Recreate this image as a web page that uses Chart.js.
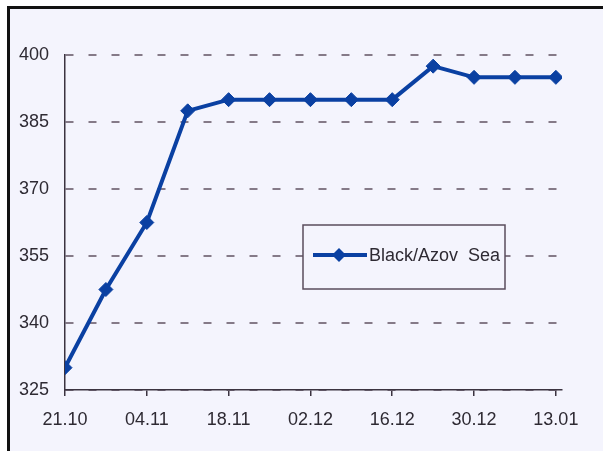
<!DOCTYPE html>
<html>
<head>
<meta charset="utf-8">
<script src="https://cdn.jsdelivr.net/npm/chart.js@4"></script>
<style>
  html, body { margin: 0; padding: 0; background: #fff; }
  #wrap { width: 603px; height: 451px; }
</style>
</head>
<body>
<div id="wrap"><canvas id="prices" width="603" height="451"></canvas></div>
<script>
var ctx = document.getElementById('prices')

// weekly points, labels every second week
const weeks = ['21.10', '28.10', '04.11', '11.11', '18.11', '25.11', '02.12',
  '09.12', '16.12', '23.12', '30.12', '06.01', '13.01']
const blackAzov = [330, 347.5, 362.5, 387.5, 390, 390, 390, 390, 390, 397.5, 395, 395, 395]
const yTicks = [325, 340, 355, 370, 385, 400]

const lineColor = '#0a40a2'
const bg = '#f4f4fd'
const fontFamily = '"Liberation Sans", Arial, sans-serif'

const frame = {
  id: 'frame',
  beforeDraw(chart) {
    const c = chart.ctx
    c.save()
    c.fillStyle = '#ffffff'
    c.fillRect(0, 0, chart.width, chart.height)
    c.fillStyle = '#111111'
    c.fillRect(7, 6, chart.width, chart.height)
    c.fillStyle = bg
    c.fillRect(10, 9, chart.width, chart.height)
    c.restore()
  }
}

// legend box sitting inside the plot
const boxLegend = {
  id: 'boxLegend',
  afterDraw(chart) {
    const c = chart.ctx
    const ds = chart.data.datasets[0]
    c.save()
    c.fillStyle = bg
    c.fillRect(303, 225, 202, 64)
    c.strokeStyle = '#5a4c5c'
    c.lineWidth = 1.5
    c.strokeRect(303, 225, 202, 64)
    c.strokeStyle = lineColor
    c.lineWidth = 4
    c.beginPath()
    c.moveTo(313, 255)
    c.lineTo(367, 255)
    c.stroke()
    c.fillStyle = lineColor
    c.beginPath()
    c.moveTo(339, 248)
    c.lineTo(346, 255)
    c.lineTo(339, 262)
    c.lineTo(332, 255)
    c.closePath()
    c.fill()
    c.fillStyle = '#2e2a33'
    c.font = '18px ' + fontFamily
    c.textBaseline = 'middle'
    c.fillText(ds.label, 369, 256)
    c.restore()
  }
}

new Chart(ctx, {
  type: 'line',
  data: {
    datasets: [{
      label: 'Black/Azov  Sea',
      data: blackAzov.map((v, i) => ({ x: i, y: v })),
      borderColor: lineColor,
      backgroundColor: lineColor,
      borderWidth: 4,
      pointStyle: 'rectRot',
      pointRadius: 7,
      pointHoverRadius: 7,
      pointBorderWidth: 1,
      tension: 0
    }]
  },
  options: {
    responsive: false,
    animation: false,
    layout: { padding: { top: 55, right: 41, left: 0, bottom: 0 } },
    plugins: {
      legend: { display: false },
      tooltip: { enabled: false }
    },
    scales: {
      x: {
        type: 'linear',
        min: 0,
        max: 12.15,
        afterFit(scale) { scale.height = 61 },
        afterBuildTicks(scale) {
          scale.ticks = weeks.map((w, i) => ({ value: i })).filter(t => t.value % 2 === 0)
        },
        ticks: {
          autoSkip: false,
          maxRotation: 0,
          padding: 13,
          color: '#2e2a33',
          font: { family: fontFamily, size: 18 },
          callback: (v) => weeks[v]
        },
        grid: {
          drawOnChartArea: false,
          drawTicks: true,
          tickLength: 6,
          color: '#3b3340',
          lineWidth: 1.5
        },
        border: { display: true, color: '#3b3340', width: 1.5 }
      },
      y: {
        min: 325,
        max: 400,
        afterFit(scale) { scale.width = 65 },
        afterBuildTicks(scale) {
          scale.ticks = yTicks.map(v => ({ value: v }))
        },
        ticks: {
          padding: 16,
          color: '#2e2a33',
          font: { family: fontFamily, size: 18 }
        },
        grid: {
          drawTicks: false,
          color: '#857a88',
          lineWidth: 2
        },
        border: { display: true, color: '#3b3340', width: 1.5, dash: [8, 15] }
      }
    }
  },
  plugins: [frame, boxLegend]
})
</script>
</body>
</html>
